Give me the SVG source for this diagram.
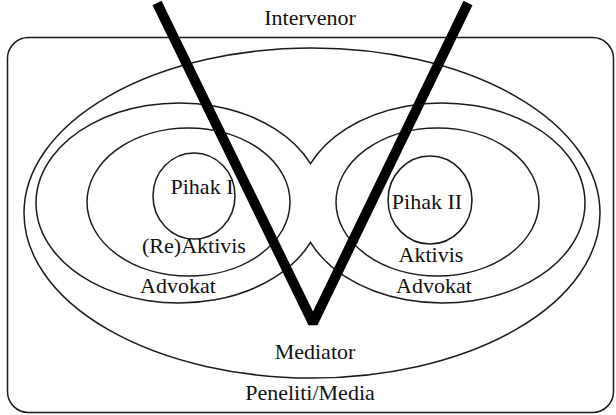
<svg xmlns="http://www.w3.org/2000/svg" width="616" height="415" viewBox="0 0 616 415">
<style>
.ln{fill:none;stroke:#1a1a1a;stroke-width:1.5}
.t{font-family:"Liberation Serif","Times New Roman",serif;font-size:22px;fill:#111;text-anchor:middle}
.v{fill:none;stroke:#000;stroke-width:10;stroke-linejoin:bevel;stroke-linecap:butt}
</style>
<rect width="616" height="415" fill="#fff"/>
<g id="peneliti-media">
<rect class="ln" x="7.5" y="37.5" width="606" height="375" rx="21" ry="21"/>
<text class="t" x="310" y="400">Peneliti/Media</text>
</g>
<g id="mediator">
<ellipse class="ln" cx="312" cy="213" rx="288" ry="165"/>
<text class="t" x="315" y="359">Mediator</text>
</g>
<g id="advokat">
<path class="ln" d="M310.5,163.7 A143,100 0 1 0 310.5,242.3 A143,100 0 1 0 310.5,163.7 Z"/>
<text class="t" x="178" y="293">Advokat</text>
<text class="t" x="434" y="293">Advokat</text>
</g>
<g id="aktivis-1">
<ellipse class="ln" cx="188.5" cy="202" rx="101.5" ry="74"/>
<text class="t" x="194" y="253">(Re)Aktivis</text>
</g>
<g id="aktivis-2">
<ellipse class="ln" cx="437.5" cy="202" rx="101.5" ry="74"/>
<text class="t" x="431" y="262">Aktivis</text>
</g>
<g id="pihak-1">
<ellipse class="ln" cx="194" cy="196" rx="41" ry="43"/>
<text class="t" x="202" y="194">Pihak I</text>
</g>
<g id="pihak-2">
<ellipse class="ln" cx="430" cy="200" rx="42" ry="44"/>
<text class="t" x="427" y="209">Pihak II</text>
</g>
<g id="intervenor">
<text class="t" x="310" y="25">Intervenor</text>
</g>
<g id="connectors">
<polyline class="v" points="157,3 313,323 468,3"/>
</g>
</svg>
